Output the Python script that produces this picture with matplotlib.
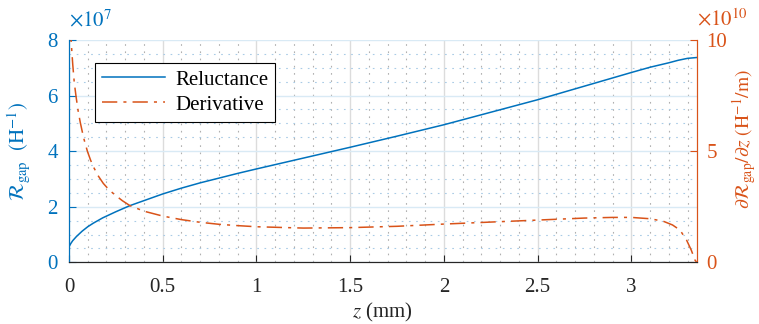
import matplotlib
matplotlib.use("Agg")
import matplotlib.pyplot as plt
import numpy as np
from matplotlib.ticker import MultipleLocator, FuncFormatter

# reluctance of the gap vs. position z (mm), in units of 1e7 H^-1
z_rel = [0.0, 0.01, 0.02, 0.04, 0.07, 0.1, 0.13, 0.18, 0.25, 0.325, 0.4, 0.5,
         0.6, 0.7, 0.8, 0.9, 1.0, 1.25, 1.5, 1.75, 2.0, 2.25, 2.5, 2.75,
         3.0, 3.1, 3.2, 3.25, 3.3, 3.349]
rel = [0.56, 0.68, 0.78, 0.93, 1.12, 1.28, 1.41, 1.60, 1.82, 2.04, 2.22, 2.46,
       2.67, 2.86, 3.03, 3.20, 3.36, 3.75, 4.14, 4.54, 4.95, 5.40, 5.85, 6.34,
       6.83, 7.02, 7.18, 7.27, 7.34, 7.37]

# derivative dR/dz, in units of 1e10 H^-1/m
z_der = [0.008, 0.011, 0.02, 0.028, 0.037, 0.048, 0.06, 0.078, 0.098, 0.115, 0.13,
         0.155, 0.183, 0.215, 0.25, 0.285, 0.325, 0.4,
         0.5, 0.6, 0.7, 0.8, 0.9, 1.0, 1.25, 1.5, 1.75, 2.0, 2.25, 2.5, 2.75,
         2.9, 3.0, 3.1, 3.17, 3.22, 3.26, 3.295, 3.32, 3.34, 3.349]
der = [10.6, 10.0, 8.9, 8.1, 7.5, 6.85, 6.3, 5.6, 5.0, 4.6, 4.3,
       3.9, 3.55, 3.25, 3.0, 2.77, 2.55, 2.3,
       2.08, 1.92, 1.80, 1.71, 1.65, 1.60, 1.54, 1.56, 1.62, 1.72, 1.81, 1.90, 1.99,
       2.02, 2.02, 1.96, 1.85, 1.68, 1.45, 1.0, 0.55, 0.1, 0.0]

x_ticks = [0, 0.5, 1, 1.5, 2, 2.5, 3]
left_ticks = [0, 2, 4, 6, 8]
right_ticks = [0, 5, 10]

blue = '#0072BD'
orange = '#D95319'
dark = '#262626'

plt.rcParams['font.family'] = 'Liberation Serif'
plt.rcParams['mathtext.fontset'] = 'stix'
plt.rcParams['font.size'] = 15

fig = plt.figure(figsize=(7.59, 3.24), dpi=100)
ax = fig.add_axes([0.0909, 0.1904, 0.9179 - 0.0909, 0.8765 - 0.1904])
ax2 = ax.twinx()

l1, = ax.plot(z_rel, rel, color=blue, lw=1.1, label='Reluctance')
l2, = ax2.plot(z_der, der, color=orange, lw=1.1,
               dashes=(10, 4, 2, 4), label='Derivative')

ax.set_xlim(0, 3.349)
ax.set_ylim(0, 8)
ax2.set_ylim(0, 10)
ax.set_xticks(x_ticks)
ax.xaxis.set_major_formatter(FuncFormatter(lambda v, p: f'{v:g}'))
ax.set_yticks(left_ticks)
ax2.set_yticks(right_ticks)
ax.xaxis.set_minor_locator(MultipleLocator(0.1))
ax.yaxis.set_minor_locator(MultipleLocator(0.5))

# grid
ax.set_axisbelow(True)
ax.xaxis.grid(True, which='major', color='#dcdcdc', lw=1.0)
ax.yaxis.grid(True, which='major', color='#d9eaf5', lw=1.0)
ax.xaxis.grid(True, which='minor', color='#b0b0b0', lw=0.8, linestyle=(0, (1.5, 5)))
ax.yaxis.grid(True, which='minor', color='#a9cbe6', lw=0.8, linestyle=(0, (1.5, 5)))

# spines
for a in (ax, ax2):
    a.spines['top'].set_visible(False)
    a.spines['bottom'].set_color(dark)
    a.spines['left'].set_color(blue)
    a.spines['right'].set_color(orange)
ax.tick_params(axis='x', direction='in', length=5, colors=dark, pad=11)
ax.tick_params(axis='y', direction='in', length=5, colors=blue, pad=8)
ax2.tick_params(axis='y', direction='in', length=5, colors=orange, pad=7)
for a in (ax, ax2):
    a.tick_params(which='minor', length=0)

ax.text(0.0, 1.04, r'$\times10^{7}$', transform=ax.transAxes, color=blue,
        ha='left', va='bottom', fontsize=15)
ax2.text(1.0, 1.045, r'$\times10^{10}$', transform=ax2.transAxes, color=orange,
         ha='left', va='bottom', fontsize=15)

ax.set_xlabel(r'$z$ (mm)', color=dark, labelpad=3, fontsize=15)
ax.set_ylabel(r'$\mathcal{R}_{\mathrm{gap}}$  $(\mathrm{H}^{-1})$', color=blue,
              fontsize=15, va='center')
ax.yaxis.set_label_coords(-0.081, 0.5)
ax2.set_ylabel(r'$\partial\mathcal{R}_{\mathrm{gap}}/\partial z$ $(\mathrm{H}^{-1}/\mathrm{m})$',
               color=orange, fontsize=14, va='center')
ax2.yaxis.set_label_coords(1.075, 0.555)

leg = ax2.legend(handles=[l1, l2], loc='upper left', bbox_to_anchor=(0.041, 0.897),
                 borderaxespad=0, fancybox=False, framealpha=1, edgecolor='black',
                 fontsize=15, handlelength=3.0, handletextpad=0.5,
                 borderpad=0.35, labelspacing=0.25)
leg.get_frame().set_linewidth(0.8)

fig.savefig('out.png', dpi=100)
